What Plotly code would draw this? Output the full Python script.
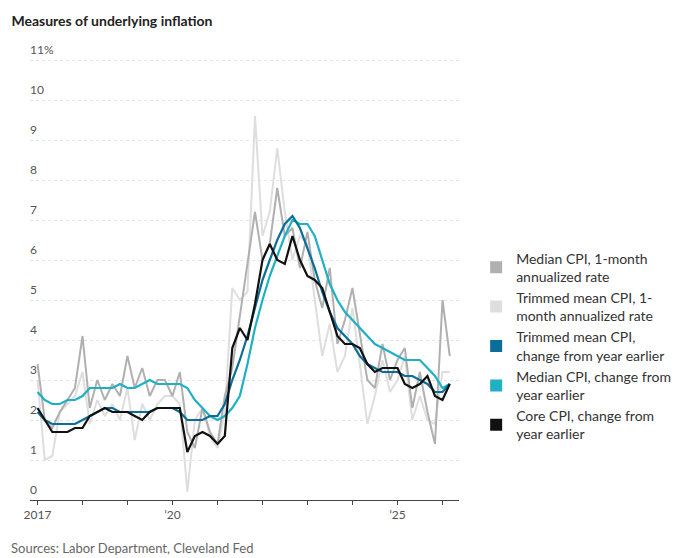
import pandas as pd
import plotly.graph_objects as go

dates = pd.date_range("2017-01-01", periods=56, freq="2MS")

core_yoy = [2.3, 2.0, 1.7, 1.7, 1.7, 1.8,
            1.8, 2.1, 2.2, 2.3, 2.2, 2.2,
            2.2, 2.1, 2.0, 2.2, 2.3, 2.3,
            2.3, 2.3, 1.2, 1.6, 1.7, 1.6,
            1.4, 1.6, 3.8, 4.3, 4.0, 4.9,
            6.0, 6.4, 6.0, 5.9, 6.6, 6.0,
            5.6, 5.5, 5.3, 4.7, 4.1, 3.9,
            3.9, 3.8, 3.4, 3.2, 3.3, 3.3,
            3.3, 2.9, 2.8, 2.9, 3.1, 2.6,
            2.5, 2.9]
trim_yoy = [2.2, 2.0, 1.9, 1.9, 1.9, 1.9,
            2.0, 2.1, 2.2, 2.3, 2.3, 2.2,
            2.2, 2.2, 2.2, 2.2, 2.3, 2.3,
            2.3, 2.2, 2.0, 2.0, 2.0, 2.1,
            2.1, 2.4, 3.0, 3.5, 4.1, 4.8,
            5.5, 6.0, 6.5, 6.9, 7.1, 6.8,
            6.3, 5.8, 5.2, 4.7, 4.3, 4.1,
            3.9, 3.6, 3.4, 3.3, 3.2, 3.2,
            3.2, 3.1, 3.1, 3.0, 2.9, 2.7,
            2.7, 2.9]
median_yoy = [2.7, 2.5, 2.4, 2.4, 2.5, 2.5,
              2.6, 2.8, 2.8, 2.8, 2.8, 2.9,
              2.8, 2.8, 2.9, 3.0, 2.9, 2.9,
              2.9, 2.9, 2.8, 2.5, 2.3, 2.1,
              2.0, 2.1, 2.3, 2.6, 3.4, 4.3,
              5.0, 5.6, 6.1, 6.6, 7.0, 6.9,
              6.9, 6.6, 6.0, 5.4, 5.0, 4.7,
              4.5, 4.3, 4.1, 3.9, 3.8, 3.7,
              3.6, 3.5, 3.5, 3.5, 3.3, 3.1,
              2.8, 2.9]
median_1m = [3.4, 2.0, 1.8, 2.2, 2.5, 2.8,
             4.1, 2.3, 3.0, 2.5, 2.9, 2.6,
             3.6, 2.8, 3.3, 2.6, 3.0, 3.0,
             2.6, 3.2, 1.7, 1.3, 2.3, 1.7,
             1.4, 2.6, 3.3, 4.6, 6.0, 7.2,
             6.0, 6.4, 7.8, 6.6, 6.8, 5.8,
             6.7, 5.5, 4.8, 5.8, 3.9, 4.5,
             5.3, 4.1, 3.0, 2.8, 3.9, 3.0,
             3.5, 3.8, 2.3, 3.2, 2.2, 1.4,
             5.0, 3.6]
trim_1m = [3.0, 1.0, 1.1, 2.2, 2.4, 2.6,
           3.2, 1.9, 2.5, 2.1, 2.4, 2.0,
           2.8, 1.5, 2.4, 2.0, 2.4, 2.6,
           2.6, 2.4, 0.2, 2.0, 2.3, 1.6,
           1.3, 2.2, 5.3, 5.0, 5.2, 9.6,
           6.6, 7.2, 8.8, 7.2, 6.0, 6.6,
           6.4, 5.0, 3.6, 4.4, 3.2, 3.6,
           4.8, 3.4, 1.9, 2.6, 3.5, 2.7,
           3.0, 3.6, 2.0, 2.6, 2.0, 1.9,
           3.2, 3.2]

y_ticks = list(range(0, 12))
y_labels = [str(v) for v in range(0, 11)] + ["11%"]
x_tick_years = list(range(2017, 2027))
x_tick_text = {2017: "2017", 2020: "’20", 2025: "’25"}

series = [
    ("Median CPI, 1-month<br>annualized rate", median_1m, "#b0b0b0", 2),
    ("Trimmed mean CPI, 1-<br>month annualized rate", trim_1m, "#dedede", 2),
    ("Trimmed mean CPI,<br>change from year earlier", trim_yoy, "#0b6e99", 2.2),
    ("Median CPI, change from<br>year earlier", median_yoy, "#1fb0c4", 2.2),
    ("Core CPI, change from<br>year earlier", core_yoy, "#111111", 2.2),
]

fig = go.Figure()
for name, vals, color, w in [series[1], series[0], series[3], series[2], series[4]]:
    fig.add_trace(go.Scatter(x=dates, y=vals, mode="lines", line=dict(color=color, width=w),
                             showlegend=False, hoverinfo="skip"))
for name, vals, color, w in series:
    fig.add_trace(go.Scatter(x=[None], y=[None], mode="markers", name=name,
                             marker=dict(symbol="square", size=13, color=color)))

for v, t in zip(y_ticks, y_labels):
    fig.add_annotation(x=0, xref="paper", y=v, yref="y", text=t, showarrow=False,
                       xanchor="left", yanchor="bottom", xshift=-2, yshift=1,
                       font=dict(size=12, color="#555"))

fig.update_layout(
    width=680, height=558,
    margin=dict(l=22, r=205, t=48, b=66),
    paper_bgcolor="white", plot_bgcolor="white",
    font=dict(family="Lato", size=13, color="#333"),
    title=dict(text="<b>Measures of underlying inflation</b>", x=0.005, xanchor="left",
               y=0.985, yanchor="top", font=dict(size=14, color="#222")),
    legend=dict(x=1.04, y=0.58, yanchor="top", xanchor="left", font=dict(size=14, color="#333"),
                itemsizing="constant", tracegroupgap=6),
    showlegend=True,
)
fig.update_yaxes(range=[0, 11.1], tickvals=y_ticks, showticklabels=False, showgrid=True,
                 gridcolor="#e4e4e4", griddash="dot", zeroline=False, fixedrange=True)
fig.update_xaxes(range=["2016-11-01", "2026-05-15"], showgrid=False,
                 tickvals=[f"{y}-01-01" for y in x_tick_years],
                 ticktext=[x_tick_text.get(y, "") for y in x_tick_years],
                 ticks="outside", ticklen=4, tickcolor="#444", showline=True, linecolor="#444",
                 tickfont=dict(size=12, color="#555"))
fig.add_annotation(x=-0.05, xref="paper", y=-0.085, yref="paper", text="Sources: Labor Department, Cleveland Fed",
                   showarrow=False, xanchor="left", yanchor="top", font=dict(size=13, color="#666"))

fig.write_html("out.html")
